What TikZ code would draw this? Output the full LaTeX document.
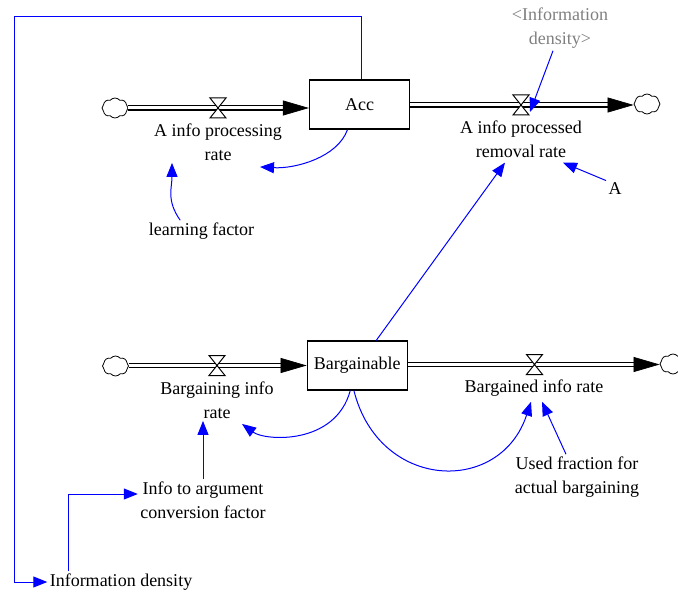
\documentclass[tikz,border=0pt]{standalone}
\usepackage{fontspec}
\setmainfont{Liberation Serif}
\usetikzlibrary{arrows.meta,shapes.symbols}
\definecolor{linkblue}{RGB}{0,0,255}
\definecolor{ghostgray}{RGB}{128,128,128}
\tikzset{every picture/.style={line width=0.75pt}}
\tikzset{
  lbl/.style={font=\fontsize{13.5}{18}\selectfont, align=center, inner sep=1.5pt},
  stock/.style={lbl, draw, line width=0.9pt, minimum width=75pt, minimum height=36.75pt},
  source/.style={cloud, cloud puffs=8, cloud puff arc=100, aspect=1.25, draw, fill=white, line width=0.6pt, minimum width=19.5pt, minimum height=15pt, inner sep=0pt},
  pipe/.style={draw, double=white, double distance=2.25pt, line width=0.9pt},
  flowhead/.style={line width=0.5pt, -{Triangle[length=19.5pt,width=11.25pt]}},
  link/.style={draw=linkblue, line width=0.75pt, -{Triangle[length=10.5pt,width=8.25pt]}},
  valve/.pic={\filldraw[fill=white, line width=0.75pt] (-6pt,-7.5pt) -- (6pt,7.5pt) -- (-6pt,7.5pt) -- (6pt,-7.5pt) -- cycle;}
}

\begin{document}
\begin{tikzpicture}[x=0.75pt,y=0.75pt,yscale=-1,xscale=1]
\useasboundingbox (0,0) rectangle (678,595);

%Shape: Rectangle
\node[stock] (acc) at (359.5,104.5) {Acc};
%Shape: Rectangle
\node[stock] (barg) at (357.25,365.5) {Bargainable};
%Shape: Cloud
\node[source] (cloud1) at (115,108) {};
\node[source] (cloud2) at (647,104) {};
\node[source] (cloud3) at (115.5,366) {};
\node[source] (cloud4) at (673,364) {};

% valves and pipe ends
\coordinate (v1) at (218,108);
\coordinate (v2) at (521,105);
\coordinate (v3) at (217,365.5);
\coordinate (v4) at (534.5,364.5);
\coordinate (in1) at (v1 -| acc.west);
\coordinate (out1) at (v2 -| cloud2.west);
\coordinate (in2) at (v3 -| barg.west);
\coordinate (out2) at (v4 -| cloud4.west);

%Flow Pipes
\draw[pipe, shorten >=18pt] (v1 -| cloud1.east) -- (in1);
\draw[flowhead] ([xshift=-19.5pt]in1) -- (in1);
\draw[pipe, shorten >=18pt] (v2 -| acc.east) -- (out1);
\draw[flowhead] ([xshift=-19.5pt]out1) -- (out1);
\draw[pipe, shorten >=18pt] (v3 -| cloud3.east) -- (in2);
\draw[flowhead] ([xshift=-19.5pt]in2) -- (in2);
\draw[pipe, shorten >=18pt] (v4 -| barg.east) -- (out2);
\draw[flowhead] ([xshift=-19.5pt]out2) -- (out2);

%Shape: Valve
\pic at (v1) {valve};
\pic at (v2) {valve};
\pic at (v3) {valve};
\pic at (v4) {valve};

% Text Node
\node[lbl] (procrate) at (218,142) {A info processing\\rate};
% Text Node
\node[lbl] (remrate) at (521,139) {A info processed\\removal rate};
% Text Node
\node[lbl, text=ghostgray] (ghostdens) at (560,28) {<Information\\density>};
% Text Node
\node[lbl] (Anode) at (615,189) {A};
% Text Node
\node[lbl] (learn) at (201.5,231) {learning factor};
% Text Node
\node[lbl] (bargrate) at (217,400) {Bargaining info\\rate};
% Text Node
\node[lbl] (bargdrate) at (534,388) {Bargained info rate};
% Text Node
\node[lbl] (usedfrac) at (577,477) {Used fraction for\\actual bargaining};
% Text Node
\node[lbl] (convfac) at (203,500) {Info to argument\\conversion factor};
% Text Node
\node[lbl] (infodens) at (121,582) {Information density};
\coordinate (topleft) at (14,17);

%Straight Lines
\draw[link] ([xshift=1.5pt]acc.north) |- (topleft) |- (infodens.west);
%Straight Lines
\draw[link] ([xshift=-39.75pt]infodens.north) |- ([yshift=-4.5pt]convfac.west);
%Straight Lines
\draw[link] (convfac.north) -- (convfac.north |- bargrate.south);
%Curve Lines
\draw[link] ([xshift=-16pt]learn.north) .. controls +(-14,-20) and +(0,25) .. ([xshift=-34.5pt]procrate.south);
%Curve Lines
\draw[link] ([xshift=-9pt]acc.south) .. controls +(-10,28) and +(35,2) .. ([xshift=31.5pt,yshift=3pt]procrate.south);
%Curve Lines
\draw[link] ([xshift=-5.25pt]barg.south) .. controls +(-15,55) and +(23,17) .. ([xshift=18.75pt,yshift=2.25pt]bargrate.south);
%Curve Lines
\draw[link] ([xshift=-2.5pt]barg.south) .. controls +(25,100) and +(-31,94) .. ([xshift=-2.25pt,yshift=2.25pt]bargdrate.south);
%Straight Lines
\draw[link] ([xshift=-8.25pt]usedfrac.north) -- ([xshift=6pt,yshift=2.25pt]bargdrate.south);
%Straight Lines
\draw[link] ([xshift=14.25pt]barg.north) -- ([xshift=-12pt,yshift=2pt]remrate.south);
%Straight Lines
\draw[link] (Anode.north west) -- ([xshift=31.5pt,yshift=2pt]remrate.south);
%Straight Lines
\draw[link] ([xshift=-5.25pt]ghostdens.south) -- ([xshift=6.75pt,yshift=5.25pt]v2);

\end{tikzpicture}
\end{document}
